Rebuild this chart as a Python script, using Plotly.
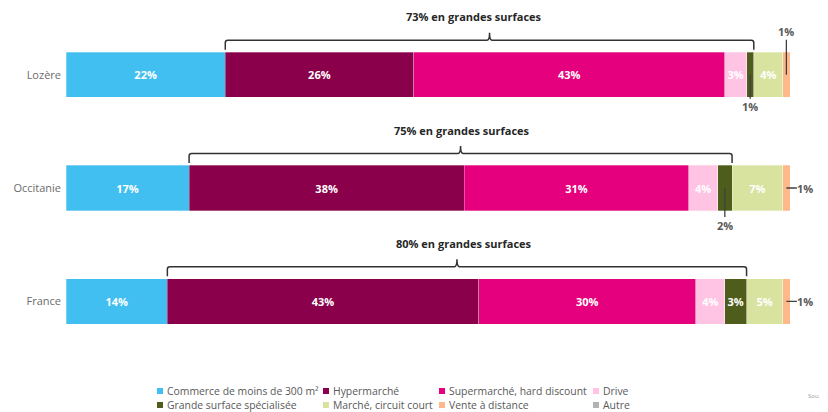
import plotly.graph_objects as go

# Shopping channel shares (%) per territory
regions = ["Lozère", "Occitanie", "France"]
series = [
    "Commerce de moins de 300 m²",
    "Hypermarché",
    "Supermarché, hard discount",
    "Drive",
    "Grande surface spécialisée",
    "Marché, circuit court",
    "Vente à distance",
    "Autre",
]
lozere = [22, 26, 43, 3, 1, 4, 1, 0]
occitanie = [17, 38, 31, 4, 2, 7, 1, 0]
france = [14, 43, 30, 4, 3, 5, 1, 0]
grandes_surfaces = [73, 75, 80]  # hypermarché + supermarché + drive + GSS

shares = [lozere, occitanie, france]
colors = ["#41BFF0", "#8A004B", "#E5007D", "#FFC3E3",
          "#4E5D1B", "#D8E3A0", "#FFB88A", "#B3B3B3"]

FONT = "Open Sans"
W, H = 828, 412
M_L, M_R, M_T, M_B = 66, 38, 18, 54
PLOT_W = W - M_L - M_R
PLOT_H = H - M_T - M_B
Y_RANGE = (-0.5, 2.5)
PX_PER_Y = PLOT_H / (Y_RANGE[1] - Y_RANGE[0])
PX_PER_X = PLOT_W / 100.0

# regions drawn top to bottom
ypos = [len(regions) - 1 - i for i in range(len(regions))]


def px_x(px):
    return (px - M_L) / PLOT_W


def px_y(py):
    return (H - M_B - py) / PLOT_H


def y_to_paper(y):
    return (y - Y_RANGE[0]) / (Y_RANGE[1] - Y_RANGE[0])


fig = go.Figure()
for s, name in enumerate(series):
    vals = [shares[r][s] for r in range(len(regions))]
    fig.add_trace(go.Bar(
        orientation="h",
        name=name,
        x=vals,
        y=ypos,
        width=0.4,
        marker=dict(color=colors[s], line=dict(color="rgba(255,255,255,0.6)", width=0.5)),
        text=[f"{v}%" if v >= 3 else "" for v in vals],
        textposition="inside",
        insidetextanchor="middle",
        constraintext="none",
        textangle=0,
        insidetextfont=dict(family=FONT, size=11, color="white", weight="bold"),
        cliponaxis=False,
        showlegend=False,
        hoverinfo="skip",
    ))

shapes = []
annotations = []

# Braces above the bars grouping the large-format stores
text_dx = [-2.1, 0.2, 1.0]  # label shift from brace centre (x units)
for r in range(len(regions)):
    c = ypos[r]
    x0 = shares[r][0]
    x1 = x0 + grandes_surfaces[r]
    xm = (x0 + x1) / 2
    yl = c + 34.5 / PX_PER_Y
    ye = c + 25 / PX_PER_Y
    yt = c + 42 / PX_PER_Y
    rx = 2.5 / PX_PER_X
    ry = 2.5 / PX_PER_Y
    path = (
        f"M {x0},{ye} L {x0},{yl - ry} Q {x0},{yl} {x0 + rx},{yl} "
        f"L {xm - rx},{yl} Q {xm},{yl} {xm},{yt} "
        f"M {xm},{yt} Q {xm},{yl} {xm + rx},{yl} "
        f"L {x1 - rx},{yl} Q {x1},{yl} {x1},{yl - ry} L {x1},{ye}"
    )
    shapes.append(dict(type="path", xref="x", yref="y", path=path,
                       line=dict(color="#333333", width=1.5)))
    annotations.append(dict(
        x=xm + text_dx[r], y=y_to_paper(c + 58 / PX_PER_Y), xref="x", yref="paper",
        yanchor="middle",
        text=f"<b>{grandes_surfaces[r]}% en grandes surfaces</b>",
        showarrow=False, font=dict(family=FONT, size=11, color="#262626"),
    ))

# Call-outs for the thin segments: (region, series, ax px, ay px)
callouts = [
    (0, 6, 0, -43),
    (0, 4, 0, 32),
    (1, 4, 0, 37),
    (1, 6, 19, 0),
    (2, 6, 19, 0),
]
for r, s, ax, ay in callouts:
    start = sum(shares[r][:s])
    v = shares[r][s]
    annotations.append(dict(
        x=start + v / 2, y=ypos[r], xref="x", yref="y",
        text=f"<b>{v}%</b>", showarrow=True, arrowhead=0,
        arrowwidth=1.3, arrowcolor="#404040", ax=ax, ay=ay, standoff=0,
        borderpad=0,
        font=dict(family=FONT, size=11, color="#595959"),
    ))

# Legend drawn as colour swatches + labels, 4 columns x 2 rows
leg_cols_px = [157, 323, 439, 593]
leg_rows_px = [391, 405]

for i, name in enumerate(series):
    cx = leg_cols_px[i % 4]
    cy = leg_rows_px[i // 4]
    shapes.append(dict(
        type="rect", xref="paper", yref="paper",
        xsizemode="pixel", ysizemode="pixel",
        xanchor=px_x(cx), yanchor=px_y(cy),
        x0=0, x1=6, y0=-3, y1=3,
        fillcolor=colors[i], line=dict(width=0),
    ))
    annotations.append(dict(
        x=px_x(cx + 7.5), y=px_y(cy), xref="paper", yref="paper",
        xanchor="left", yanchor="middle", text=name, showarrow=False,
        font=dict(family=FONT, size=10.4, color="#595959"),
    ))

annotations.append(dict(
    x=px_x(806), y=px_y(396), xref="paper", yref="paper",
    xanchor="left", yanchor="middle", text="Sou", showarrow=False,
    font=dict(family=FONT, size=6, color="#9a9a9a"),
))

fig.update_layout(
    width=W, height=H,
    margin=dict(l=M_L, r=M_R, t=M_T, b=M_B, pad=0),
    barmode="stack",
    paper_bgcolor="white", plot_bgcolor="white",
    font=dict(family=FONT),
    xaxis=dict(range=[0, 100], visible=False, fixedrange=True),
    yaxis=dict(
        range=list(Y_RANGE), tickvals=ypos, ticktext=regions,
        showgrid=False, zeroline=False, showline=False, ticks="",
        ticklabelstandoff=4,
        tickfont=dict(family=FONT, size=11, color="#6b6b6b"),
        fixedrange=True,
    ),
    shapes=shapes,
    annotations=annotations,
    showlegend=False,
)

fig.write_html("out.html")
